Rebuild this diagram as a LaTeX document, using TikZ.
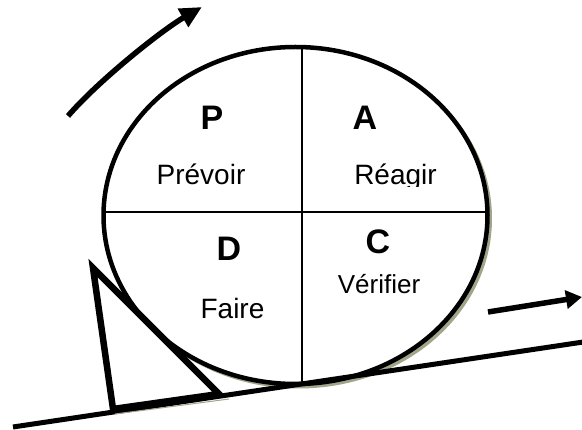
\documentclass[tikz,border=0pt]{standalone}
\usepackage{fontspec}
\setmainfont{Liberation Sans}
\usetikzlibrary{arrows.meta}

\begin{document}
\begin{tikzpicture}[
    x=1pt, y=-1pt,
    letter/.style={anchor=base, inner sep=0pt, font=\fontsize{34}{34}\selectfont\bfseries},
    word/.style={anchor=base, inner sep=0pt, font=\fontsize{28}{28}\selectfont},
    shadowline/.style={draw={rgb,255:red,160;green,166;blue,138}, line width=3pt},
    bigarrow/.style={line width=5.5pt, -{Triangle[length=22pt, width=20pt]}}
  ]
    \clip (0,0) rectangle (582,430);
    % wheel with its shadow
    \coordinate (hub) at (295.5,215.5);
    \filldraw[shadowline, fill={rgb,255:red,160;green,166;blue,138}] ([shift={(3,3)}]hub) ellipse [x radius=192, y radius=168.5];
    \fill[white] (hub) ellipse [x radius=192, y radius=168.5];
    \begin{scope}
      \clip (hub) ellipse [x radius=192, y radius=168.5];
      \draw[line width=1.4pt] (302,40) -- (302,390);
      \draw[line width=1.4pt] (95,212) -- (495,212);
    \end{scope}
    \draw[line width=4.5pt] (hub) ellipse [x radius=192, y radius=168.5];
    % slope and wedge
    \coordinate (rampL) at (13,427);
    \coordinate (rampR) at (590,341);
    \draw[line width=5pt] (rampL) -- (rampR);
    \coordinate (wtop) at (93,268);
    \coordinate (wbl) at (113,409);
    \coordinate (wbr) at (219,394);
    \draw[shadowline, line width=1pt] (115,414) -- (229,399);
    \draw[line width=6.5pt, line join=miter] (wtop) -- (wbl) -- (wbr) -- cycle;
    % arrows
    \coordinate (turnA) at (68,116);
    \coordinate (turnB) at (202,7);
    \draw[bigarrow, line cap=butt] (turnA) .. controls (98,81) and (162,30) .. (turnB);
    \coordinate (moveA) at (488,312);
    \coordinate (moveB) at (582,297);
    \draw[line width=5.5pt, -{Triangle[length=16pt, width=18pt]}] (moveA) -- (moveB);
    % quadrants
    \node[letter] (p) at (212,130) {P};
    \node[word] (plan) at (201,185) {Prévoir};
    \node[letter] (a) at (365,130) {A};
    \begin{scope}
      \clip (340,150) rectangle (460,187);
      \node[word] (act) at (395.5,185) {Réagir};
    \end{scope}
    \node[letter] (d) at (229,261) {D};
    \node[word] (do) at (232.5,319) {Faire};
    \node[letter] (c) at (378,254) {C};
    \node[word, font=\fontsize{26}{26}\selectfont] (check) at (379,294) {Vérifier};
  \end{tikzpicture}
\end{document}
